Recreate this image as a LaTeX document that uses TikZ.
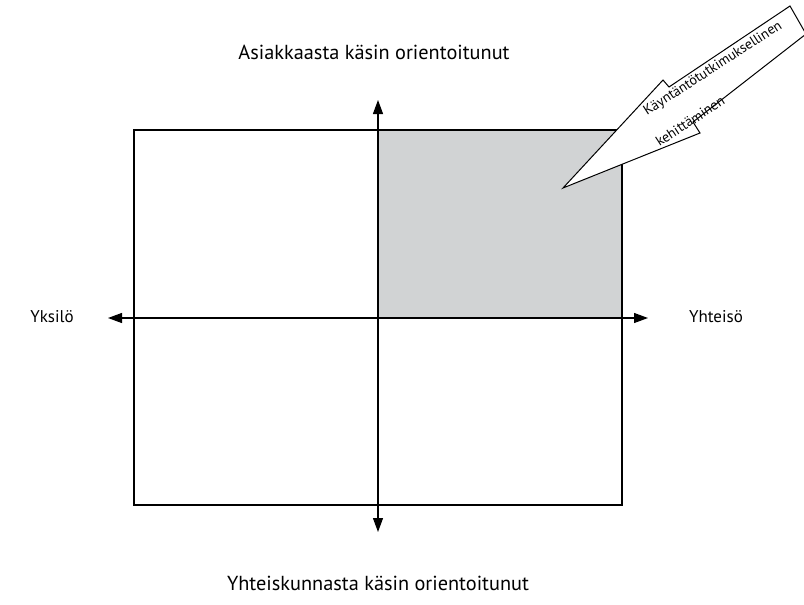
\documentclass[tikz,border=0pt]{standalone}
\usepackage{fontspec}
\setmainfont{PT Sans}
\usetikzlibrary{arrows.meta}
\definecolor{quadgray}{HTML}{D1D3D4}
\tikzset{
  frame/.style={draw=black, line width=1.2pt},
  axis/.style={draw=black, line width=1.2pt, -{Triangle[length=14pt,width=10pt]}},
  lbl/.style={font=\fontsize{20.3}{24}\selectfont, inner sep=0pt},
  sidelbl/.style={font=\fontsize{17}{20}\selectfont, inner sep=0pt},
  arrowtxt/.style={font=\fontsize{14}{17}\selectfont, inner sep=0pt, rotate=33}
}
\begin{document}
\begin{tikzpicture}[x=1pt,y=-1pt]
\useasboundingbox (0,0) rectangle (804,605);
\begin{scope}
\clip (0,0) rectangle (804,605);
% shaded quadrant
\fill[quadgray] (378,130) rectangle (622,318);
% frame
\draw[frame] (134,130) rectangle (622,505);
% axes
\coordinate (center) at (378,318);
\coordinate (top) at (378,100);
\coordinate (bottom) at (378,532);
\coordinate (left) at (108,318);
\coordinate (right) at (648,318);
\draw[axis] (center) -- (top);
\draw[axis] (center) -- (bottom);
\draw[axis] (center) -- (left);
\draw[axis] (center) -- (right);
% big arrow
\coordinate (tip) at (563,188);
\draw[black, line width=1pt, fill=white, line join=miter]
  (tip) -- (663,80) -- (669,87) -- (790,6) -- (806,34) -- (693,122) -- (700,133) -- cycle;
\end{scope}
\node[arrowtxt] (a1) at (713,69) {Käyntäntötutkimuksellinen};
\node[arrowtxt] (a2) at (690,121) {kehittäminen};
% labels
\node[lbl] (ltop) at (374,52) {Asiakkaasta käsin orientoitunut};
\node[lbl] (lbot) at (378,583) {Yhteiskunnasta käsin orientoitunut};
\node[sidelbl] (lleft) at (52,317) {Yksilö};
\node[sidelbl] (lright) at (716,317) {Yhteisö};
\end{tikzpicture}
\end{document}
